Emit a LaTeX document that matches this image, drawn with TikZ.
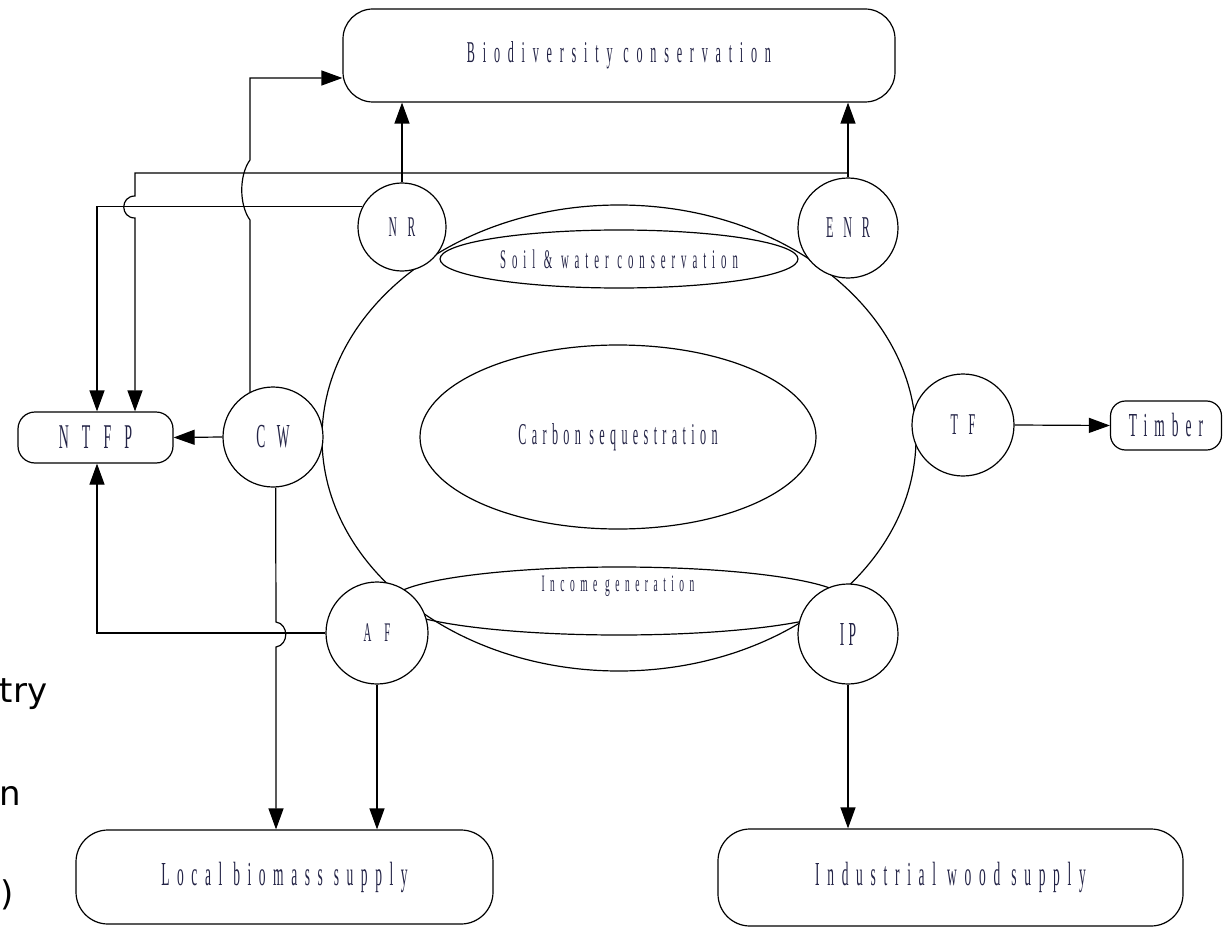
\documentclass[tikz,border=0pt]{standalone}
\usepackage{fontspec}
\setmainfont{Liberation Serif}
\newfontfamily\fragfont{DejaVu Sans}
\usetikzlibrary{arrows.meta,shapes.geometric}
\definecolor{txt}{RGB}{35,35,70}
\newcommand\lbl[3]{\scalebox{0.45}[1.12]{\fontsize{#1}{#1}\selectfont\addfontfeature{LetterSpace=#2}#3}}
\begin{document}
\begin{tikzpicture}[x=1pt,y=-1pt,line width=1.2pt,
  circ/.style={circle,draw,fill=white,inner sep=0pt,minimum size=#1,text=txt},
  rbox/.style={draw,inner sep=0pt,text=txt},
  oval/.style={ellipse,draw,inner sep=0pt,text=txt},
  arr/.style={-{Triangle[length=21pt,width=15pt]}},
  frag/.style={inner sep=0pt,font=\fragfont\fontsize{34}{34}\selectfont}]
\useasboundingbox (0,0) rectangle (1223,928);
% ovals
\node[oval,minimum width=594pt,minimum height=466pt] (outer) at (619,438) {};
\node[oval,minimum width=456pt,minimum height=68pt] (income) at (619,601) {};
\node[oval,minimum width=358pt,minimum height=58pt] (soil) at (619,259) {\lbl{24}{55}{Soil \& water conservation}};
\node[oval,minimum width=396pt,minimum height=184pt] (carbon) at (618,437) {\lbl{27}{44}{Carbon sequestration}};
\node[inner sep=0pt,text=txt] (incometxt) at (618,586) {\lbl{21}{58}{Income generation}};
% boxes
\node[rbox,rounded corners=30pt,minimum width=552pt,minimum height=93pt] (bio) at (619,55.5) {\lbl{27}{64}{Biodiversity conservation}};
\node[rbox,rounded corners=17pt,minimum width=155pt,minimum height=51pt] (ntfp) at (95.5,437.5) {\lbl{31}{94}{NTFP}};
\node[rbox,rounded corners=15pt,minimum width=111pt,minimum height=49pt] (timber) at (1166,425.5) {\lbl{30}{52}{Timber}};
\node[rbox,rounded corners=32pt,minimum width=417pt,minimum height=94pt] (local) at (284.5,877) {\lbl{30}{56}{Local biomass supply}};
\node[rbox,rounded corners=32pt,minimum width=465pt,minimum height=97pt] (indus) at (950.5,877.5) {\lbl{30}{57}{Industrial wood supply}};
% circles
\node[circ=88pt] (NR) at (402,227) {\lbl{25.5}{94}{NR}};
\node[circ=100pt] (ENR) at (848,228) {\lbl{27}{81}{ENR}};
\node[circ=100pt] (CW) at (273,437) {\lbl{30}{87}{CW}};
\node[circ=102pt] (TF) at (963,425) {\lbl{27}{89}{TF}};
\node[circ=102pt] (AF) at (377,633) {\lbl{24}{120}{AF}};
\node[circ=100pt] (IP) at (848,634) {\lbl{30}{31}{IP}};
% connectors
\coordinate (jE) at (848,173);
\coordinate (c78) at (250,78);
\draw[arr] (NR.north) -- (NR.north |- bio.south);
\draw[arr] (ENR.north) -- (ENR.north |- bio.south);
\draw[arr] (jE) -- (135,173) -- (135,196) .. controls (120,196) and (120,218) .. (135,218) -- ([xshift=39.5pt]ntfp.north);
\draw[arr] (NR.153) -| ([xshift=1.5pt]ntfp.north);
\draw[arr] (CW.117) -- (250,220) .. controls (239,205) and (239,175) .. (250,160) -- (c78) -- (c78 -| bio.west);
\draw[arr] (CW.west) -- (ntfp.east);
\draw[arr] (CW.273) -- (276,622) .. controls (289,624) and (289,645) .. (276,647) -- ([xshift=-8.5pt]local.north);
\draw[arr] (AF.west) -| ([xshift=1.5pt]ntfp.south);
\draw[arr] (AF.south) -- (AF.south |- local.north);
\draw[arr] (IP.south) -- (IP.south |- indus.north);
\draw[arr] (TF.east) -- (timber.west);
% text fragments at the left edge
\node[frag,anchor=base east] (frag1) at (48,702) {try};
\node[frag,anchor=base east] (frag2) at (22,805) {n};
\node[frag,anchor=base west] (frag3) at (0,905) {)};
\end{tikzpicture}
\end{document}
